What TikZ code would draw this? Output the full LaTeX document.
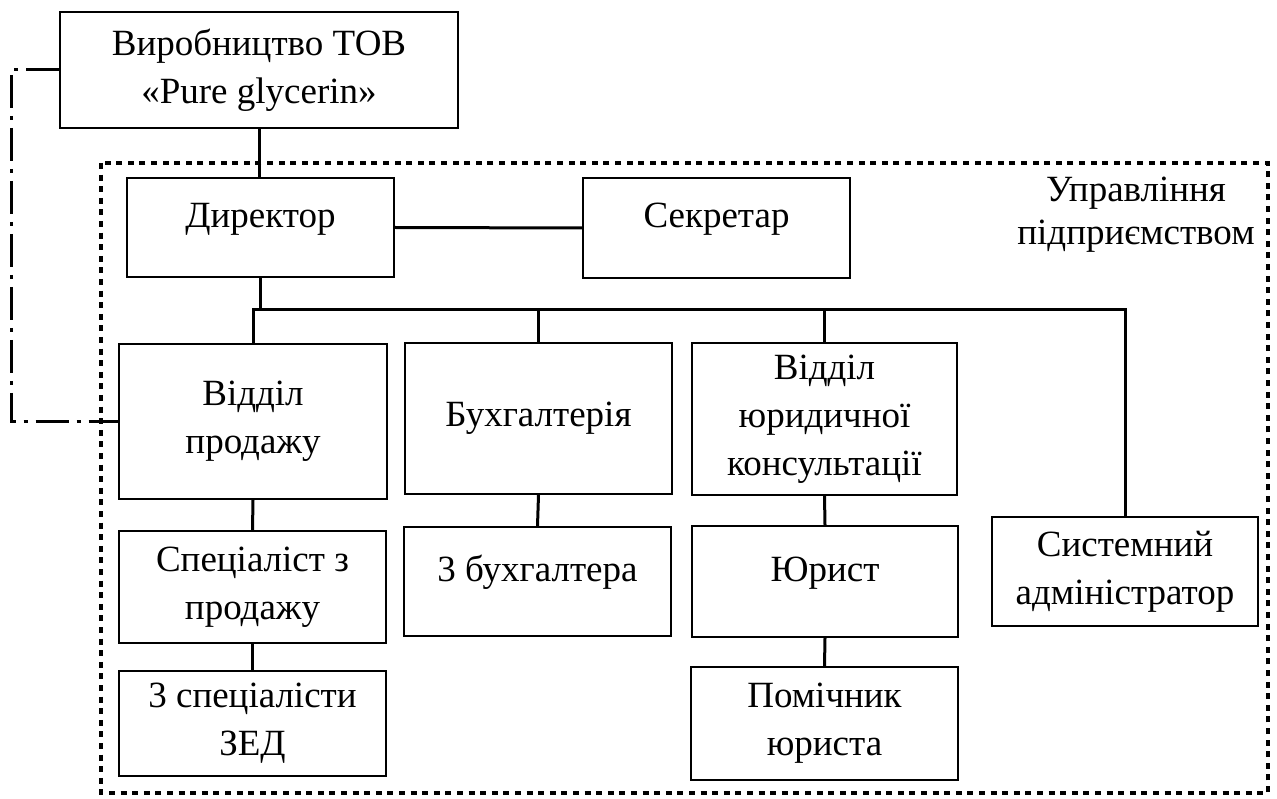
\documentclass[tikz,border=0pt]{standalone}
\usepackage{fontspec}
\setmainfont{Liberation Serif}
\tikzset{
  unit/.style={draw, line width=2pt, align=center, inner sep=0pt, font=\fontsize{37}{48}\selectfont},
  oneline/.style={text height=26pt, text depth=26pt},
  link/.style={line width=3pt},
  frame/.style={line width=4pt, dash pattern=on 6pt off 5.6pt},
  outside/.style={line width=3pt, dash pattern=on 33pt off 8pt on 4pt off 8pt},
}
\begin{document}
\begin{tikzpicture}[x=1pt, y=-1pt]
\useasboundingbox (0,0) rectangle (1277,799);
\draw[frame] (101,163) rectangle (1268,793);
\node[unit, minimum width=398pt, minimum height=116pt] (prod) at (259,70) {Виробництво ТОВ\\«Pure glycerin»};
\node[unit, oneline, minimum width=267pt, minimum height=99pt] (dir) at (260.5,227.5) {Директор};
\node[unit, oneline, minimum width=267pt, minimum height=100pt] (sec) at (716.5,228) {Секретар};
\node[font=\fontsize{37}{43}\selectfont, align=center, inner sep=0pt] (mgmt) at (1136,214.5) {Управління\\підприємством};
\node[unit, minimum width=268pt, minimum height=155pt] (sales) at (253,421.5) {Відділ\\продажу};
\node[unit, minimum width=267pt, minimum height=151pt] (acc) at (538.5,418.5) {Бухгалтерія};
\node[unit, minimum width=265pt, minimum height=152pt] (legal) at (824.5,419) {Відділ\\юридичної\\консультації};
\node[unit, minimum width=267pt, minimum height=112pt] (spec) at (252.5,587) {Спеціаліст з\\продажу};
\node[unit, oneline, minimum width=267pt, minimum height=109pt] (accs) at (537.5,581.5) {3 бухгалтера};
\node[unit, oneline, minimum width=266pt, minimum height=111pt] (lawyer) at (825,581.5) {Юрист};
\node[unit, minimum width=266pt, minimum height=109pt] (sysadm) at (1125,571.5) {Системний\\адміністратор};
\node[unit, minimum width=267pt, minimum height=105pt] (zed) at (252.5,723.5) {3 спеціалісти\\ЗЕД};
\node[unit, minimum width=267pt, minimum height=113pt] (helper) at (824.5,723.5) {Помічник\\юриста};
\draw[link] (prod.south) -- (prod.south |- dir.north);
\draw[link] (dir.east) -- (sec.west);
\draw[link] (sales.north) -- ++(0,-33) coordinate (bus) -| (sysadm.north);
\draw[link] (dir.south) -- (dir.south |- bus);
\draw[link] (acc.north) -- (acc.north |- bus);
\draw[link] (legal.north) -- (legal.north |- bus);
\draw[link] (sales.south) -- (spec.north);
\draw[link] (spec.south) -- (zed.north);
\draw[link] (acc.south) -- (accs.north);
\draw[link] (legal.south) -- (lawyer.north);
\draw[link] (lawyer.south) -- (helper.north);
\draw[outside] (prod.west) -- ++(-48,0) |- (sales.west);
\end{tikzpicture}
\end{document}
